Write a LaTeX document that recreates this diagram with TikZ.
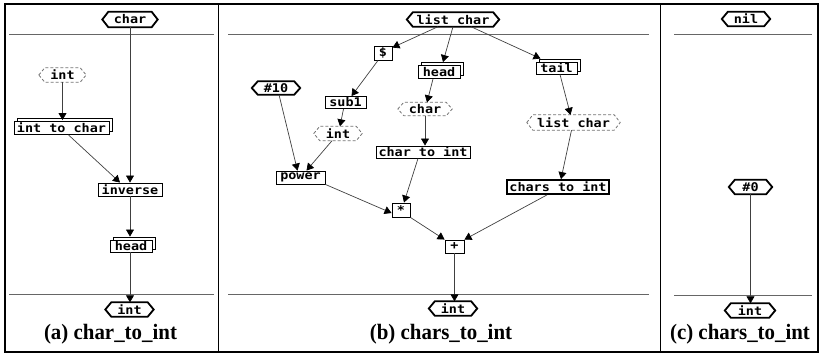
\documentclass[tikz,border=0pt]{standalone}
\usepackage{fontspec}
\setmainfont{Liberation Serif}
\newfontfamily\nodefont[FakeStretch=1.12]{DejaVu Sans Mono}
\newfontfamily\capfont[FakeStretch=0.95]{Liberation Serif}
\usetikzlibrary{arrows.meta,shadows}
\newcommand\hexline[2]{\draw[#1] (#2.west) -- ([xshift=6pt]#2.north west) -- ([xshift=-6pt]#2.north east) -- (#2.east) -- ([xshift=-6pt]#2.south east) -- ([xshift=6pt]#2.south west) -- cycle;}
\begin{document}
\begin{tikzpicture}[x=1pt,y=-1pt,
  lbl/.style={inner sep=0pt, font=\nodefont\bfseries\fontsize{12}{12}\selectfont},
  box/.style={lbl, rectangle, draw=black, line width=0.9pt, fill=white},
  sbox/.style={box, copy shadow={shadow xshift=3pt, shadow yshift=3pt}},
  tbox/.style={box, line width=1.8pt},
  hexn/.style={lbl, rectangle},
  thickhex/.style={draw=black, line width=1.8pt, line join=miter},
  dashhex/.style={draw=black!55, line width=0.8pt, dash pattern=on 3pt off 2pt},
  conn/.style={draw=black!75, line width=0.7pt, -{Triangle[width=8pt,length=7pt,color=black]}},
  sepline/.style={draw=black!60, line width=1pt},
  captxt/.style={anchor=base, inner sep=0pt, font=\capfont\bfseries\fontsize{22}{22}\selectfont}
]
\useasboundingbox (0,0) rectangle (821,354);
% frame and dividers
\draw[black, line width=1.1pt] (5,4) rectangle (818,352);
\draw[black, line width=1pt] (218,4) -- (218,352);
\draw[black, line width=1pt] (660,4) -- (660,352);
\draw[sepline] (9,34) -- (214,34);
\draw[sepline] (228,34) -- (649,34);
\draw[sepline] (674,34) -- (812,34);
\draw[sepline] (9,294) -- (214,294);
\draw[sepline] (228,294) -- (649,294);
\draw[sepline] (674,295) -- (812,295);

% ---------- panel (a)
\node[hexn, minimum width=55pt, minimum height=15pt] (ain) at (130,19.5) {char};
\node[hexn, minimum width=47pt, minimum height=14pt] (aint) at (62.5,75) {int};
\node[sbox, minimum width=95pt, minimum height=13pt] (aitc) at (61.5,128) {int to char};
\node[box, minimum width=64pt, minimum height=13pt] (ainv) at (130,189.5) {inverse};
\node[sbox, minimum width=42pt, minimum height=12pt] (ahead) at (131,246) {head};
\node[hexn, minimum width=48pt, minimum height=14pt] (aout) at (129.5,309.5) {int};
\hexline{thickhex}{ain}
\hexline{dashhex}{aint}
\hexline{thickhex}{aout}
\draw[conn] (ain.south) -- (ain.south |- ainv.north);
\draw[conn] (aint.south) -- ([yshift=1pt]aint.south |- aitc.north);
\draw[conn] ([xshift=7pt]aitc.south) -- ([xshift=-10pt]ainv.north);
\draw[conn] (ainv.south) -- ([yshift=3pt]ainv.south |- ahead.north);
\draw[conn] (ainv.south |- ahead.south) -- (ainv.south |- aout.north);
\node[captxt] (capa) at (110.5,339) {(a) char\_to\_int};

% ---------- panel (b)
\node[hexn, minimum width=92pt, minimum height=14pt] (bin) at (453,19.5) {list char};
\node[box, minimum width=18pt, minimum height=14pt] (bdol) at (383,53) {\$};
\node[sbox, minimum width=42pt, minimum height=13pt] (bhead) at (439,72) {head};
\node[sbox, minimum width=41pt, minimum height=12pt] (btail) at (556.5,68) {tail};
\node[box, minimum width=41pt, minimum height=12pt] (bsub) at (345.5,102.5) {sub1};
\node[hexn, minimum width=48pt, minimum height=13pt] (bten) at (276,88) {\#10};
\node[hexn, minimum width=54pt, minimum height=13pt] (bchar) at (425,109) {char};
\node[hexn, minimum width=48pt, minimum height=14pt] (bint) at (338,133.5) {int};
\node[box, minimum width=94pt, minimum height=12pt] (bcti) at (423,152) {char to int};
\node[box, minimum width=49pt, minimum height=13pt] (bpow) at (300.5,177.5) {power};
\node[box, minimum width=18pt, minimum height=14pt] (bmul) at (401,210) {*};
\node[box, minimum width=19pt, minimum height=13pt] (badd) at (454.5,246.5) {+};
\node[hexn, minimum width=93pt, minimum height=15pt] (blc) at (573.5,122.5) {list char};
\node[tbox, minimum width=102pt, minimum height=14pt] (bcs) at (558,187) {chars to int};
\node[hexn, minimum width=48pt, minimum height=14pt] (bout) at (453,308.5) {int};
\hexline{thickhex}{bin}
\hexline{thickhex}{bten}
\hexline{dashhex}{bchar}
\hexline{dashhex}{bint}
\hexline{dashhex}{blc}
\hexline{thickhex}{bout}
\draw[conn] ([xshift=-15pt]bin.south) -- ([yshift=-2pt]bdol.north east);
\draw[conn] (bin.south) -- ([xshift=4pt,yshift=3pt]bhead.north);
\draw[conn] ([xshift=18pt]bin.south) -- ([xshift=-16pt,yshift=3pt]btail.north);
\draw[conn] ([xshift=-5pt]bdol.south) -- ([xshift=6pt]bsub.north);
\draw[conn] ([xshift=-6pt]bhead.south) -- ([xshift=2pt]bchar.north);
\draw[conn] ([xshift=-2pt]bsub.south) -- ([xshift=2pt]bint.north);
\draw[conn] (bchar.south) -- (bchar.south |- bcti.north);
\draw[conn] ([xshift=3pt]bten.south) -- ([xshift=-3pt]bpow.north);
\draw[conn] ([xshift=-6pt]bint.south) -- ([xshift=6pt]bpow.north);
\draw[conn] (bpow.south east) -- ([yshift=-3pt]bmul.west);
\draw[conn] ([xshift=-5pt]bcti.south) -- ([xshift=3pt]bmul.north);
\draw[conn] (bmul.south east) -- (badd.north west);
\draw[conn] ([xshift=-11pt]bcs.south) -- (badd.north east);
\draw[conn] ([xshift=3.5pt]btail.south) -- ([xshift=-3pt]blc.north);
\draw[conn] ([xshift=-2pt]blc.south) -- ([xshift=3pt]bcs.north);
\draw[conn] (badd.south) -- (badd.south |- bout.north);
\node[captxt] (capb) at (441,339) {(b) chars\_to\_int};

% ---------- panel (c)
\node[hexn, minimum width=48pt, minimum height=14pt] (cin) at (746,19) {nil};
\node[hexn, minimum width=43pt, minimum height=14pt] (czero) at (750.5,187) {\#0};
\node[hexn, minimum width=50pt, minimum height=14pt] (cout) at (750,310.5) {int};
\hexline{thickhex}{cin}
\hexline{thickhex}{czero}
\hexline{thickhex}{cout}
\draw[conn] (czero.south) -- (czero.south |- cout.north);
\node[captxt] (capc) at (740,339) {(c) chars\_to\_int};
\end{tikzpicture}
\end{document}
